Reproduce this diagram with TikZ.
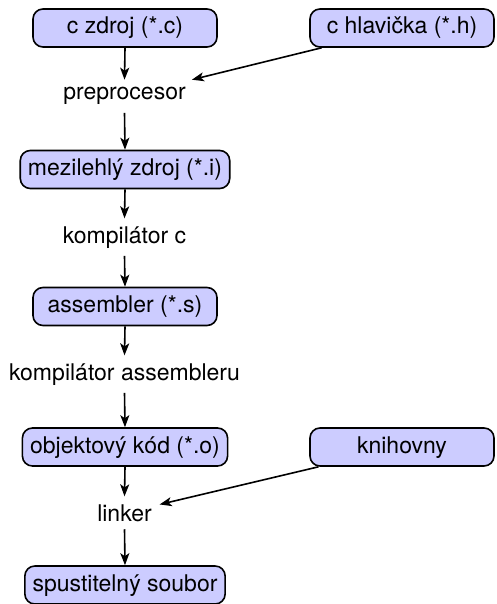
\documentclass[tikz,border=0pt]{standalone}
\usepackage{fontspec}
\setmainfont{TeX Gyre Heros}
\usetikzlibrary{arrows.meta}
\begin{document}
\begin{tikzpicture}[x=1pt,y=-1pt,
  every node/.style={font=\fontsize{23}{27}\selectfont, inner sep=7.7pt},
  filebox/.style={draw, line width=1.6pt, rounded corners=10pt, fill=blue!20,
    minimum width=184pt, minimum height=38pt, text height=17pt, text depth=5pt},
  tool/.style={anchor=base},
  arr/.style={-{Stealth[length=12pt,width=9pt,inset=3pt]}, line width=1.6pt}]
\useasboundingbox (0,0) rectangle (496,604);
\node[filebox] (src) at (125,28) {c zdroj (*.c)};
\node[filebox] (hdr) at (402,28) {c hlavička (*.h)};
\node[tool] (prep) at (124.5,100) {preprocesor};
\node[filebox] (mez) at (125,169.5) {mezilehlý zdroj (*.i)};
\node[tool] (kc) at (124.5,243) {kompilátor c};
\node[filebox] (asm) at (125,306.5) {assembler (*.s)};
\node[tool] (ka) at (124.5,380) {kompilátor assembleru};
\node[filebox] (obj) at (125,447) {objektový kód (*.o)};
\node[filebox] (lib) at (402,447) {knihovny};
\node[tool] (link) at (124.5,521) {linker};
\node[filebox] (exe) at (125,585) {spustitelný soubor};
\draw[arr] (src.south) -- (prep.north);
\draw[arr] (hdr) -- (prep);
\draw[arr] (prep.south) -- (mez.north);
\draw[arr] (mez.south) -- (kc.north);
\draw[arr] (kc.south) -- (asm.north);
\draw[arr] (asm.south) -- (ka.north);
\draw[arr] (ka.south) -- (obj.north);
\draw[arr] (obj.south) -- (link.north);
\draw[arr] (lib) -- (link);
\draw[arr] (link.south) -- (exe.north);
\end{tikzpicture}
\end{document}
